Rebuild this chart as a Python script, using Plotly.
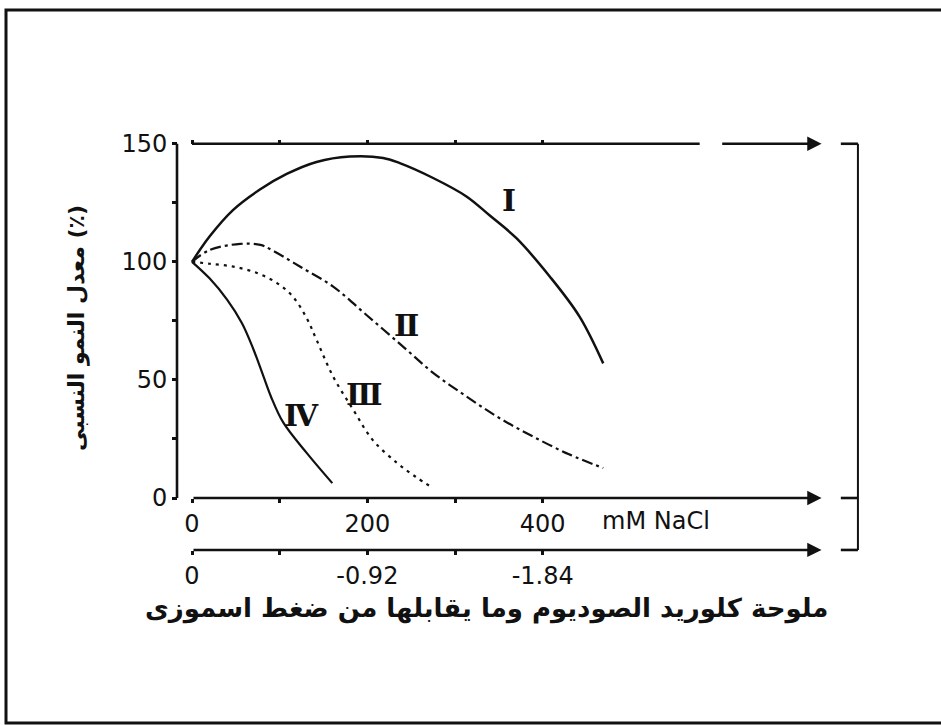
import plotly.graph_objects as go

# ---------------- data ----------------
curve_I_x = [0, 20, 47, 77, 108, 142, 180, 218, 237, 275, 313, 340, 370, 408, 442, 469]
curve_I_y = [100, 110.7, 122, 130.5, 137.2, 142.3, 144.6, 144, 141.8, 135.5, 127.7, 119.5, 110, 93.8, 76.8, 57]

curve_II_x = [0, 20, 55, 78, 92, 123, 161, 199, 241, 275, 313, 350, 389, 430, 469]
curve_II_y = [100, 105, 107.6, 107.2, 104.8, 98, 89.5, 77.5, 64, 53, 43, 34, 26, 18.5, 12.7]

curve_III_x = [0, 20, 47, 74, 97, 115, 131, 142, 161, 184, 206, 234, 255, 275]
curve_III_y = [100, 99.2, 98, 95.3, 91, 85.3, 76, 67, 51.4, 37.3, 24.6, 14.8, 9, 4.2]

curve_IV_x = [0, 20, 40, 57, 70, 81, 90, 104, 131, 160]
curve_IV_y = [100, 93, 84, 74, 63, 52, 43, 32, 19, 6.3]

curve_names = ["Ⅰ", "Ⅱ", "Ⅲ", "Ⅳ"]
label_x = [361, 245, 197, 125]
label_y = [126, 73, 44, 35]

nacl_ticks = [0, 100, 200, 300, 400]
nacl_text = ["0", "", "200", "", "400"]
mpa_text = ["0", "", "-0.92", "", "-1.84"]
y_ticks = [0, 25, 50, 75, 100, 125, 150]
y_text = ["0", "", "50", "", "100", "", "150"]

x_title = "ملوحة كلوريد الصوديوم وما يقابلها من ضغط اسموزى"
y_title = "معدل النمو النسبى (٪)"
nacl_unit = "mM NaCl"
mpa_unit = "MPa"

# ---------------- layout geometry ----------------
W, H = 941, 725
PX0, SX = 192, 0.8768      # pixel of x=0, px per mM
PY0, SY = 498, 2.3616      # pixel of y=0, px per %
L, R, T, B = 150, 81, 130, 168
xr = [(L - PX0) / SX, (W - R - PX0) / SX]
yr = [(PY0 - (H - B)) / SY, (PY0 - T) / SY]

def fx(px):
    return (px - L) / (W - L - R)

def fy(py):
    return 1 - (py - T) / (H - T - B)

def ypos(val):
    return (val - yr[0]) / (yr[1] - yr[0])

Y_AXIS_X = (177 - PX0) / SX
MPA_Y = -22
TOP_Y = 150
ARROW_END = 718
BRACKET_X = 759.5
BRACKET_IN = 740

BLACK = "#111111"
tickfont = dict(family="DejaVu Sans", size=24, color=BLACK)

fig = go.Figure()
common = dict(mode="lines", line_shape="spline", showlegend=False, hoverinfo="skip")
fig.add_trace(go.Scatter(x=curve_I_x, y=curve_I_y, line=dict(color=BLACK, width=2.5, smoothing=1.0), **common))
fig.add_trace(go.Scatter(x=curve_II_x, y=curve_II_y, line=dict(color=BLACK, width=2.2, dash="11px,4px,3px,4px", smoothing=1.0), **common))
fig.add_trace(go.Scatter(x=curve_III_x, y=curve_III_y, line=dict(color=BLACK, width=2.2, dash="3px,5px", smoothing=1.0), **common))
fig.add_trace(go.Scatter(x=curve_IV_x, y=curve_IV_y, line=dict(color=BLACK, width=2.2, smoothing=1.0), **common))

# dummy traces to hold the secondary axes
fig.add_trace(go.Scatter(x=[0], y=[0], xaxis="x2", mode="markers", marker=dict(opacity=0), showlegend=False, hoverinfo="skip"))
fig.add_trace(go.Scatter(x=[0], y=[0], xaxis="x3", mode="markers", marker=dict(opacity=0), showlegend=False, hoverinfo="skip"))

axis_common = dict(showgrid=False, zeroline=False, showline=False, range=xr,
                   ticks="outside", ticklen=4, tickwidth=2.5, tickcolor=BLACK,
                   tickvals=nacl_ticks, tickfont=tickfont)

fig.update_layout(
    width=W, height=H,
    margin=dict(l=L, r=R, t=T, b=B),
    paper_bgcolor="white", plot_bgcolor="white",
    xaxis=dict(anchor="free", position=ypos(0), ticktext=nacl_text, **axis_common),
    xaxis2=dict(overlaying="x", anchor="free", position=ypos(MPA_Y), side="bottom",
                ticktext=mpa_text, **axis_common),
    xaxis3=dict(overlaying="x", anchor="free", position=ypos(TOP_Y), side="top",
                ticktext=[""] * len(nacl_ticks), **axis_common),
    yaxis=dict(range=yr, showgrid=False, zeroline=False, showline=False,
               anchor="free", position=fx(177),
               ticks="outside", ticklen=5, tickwidth=2.5, tickcolor=BLACK,
               tickvals=y_ticks, ticktext=y_text, tickfont=tickfont),
)

# axis lines and bracket
lw = 2.6
segs = [
    (Y_AXIS_X, 0, Y_AXIS_X, TOP_Y),
    (0, TOP_Y, 579, TOP_Y),
    (BRACKET_IN, TOP_Y, BRACKET_X, TOP_Y),
    (BRACKET_X, TOP_Y, BRACKET_X, MPA_Y),
    (BRACKET_IN, 0, BRACKET_X, 0),
    (BRACKET_IN, MPA_Y, BRACKET_X, MPA_Y),
]
for x0, y0, x1, y1 in segs:
    fig.add_shape(type="line", x0=x0, y0=y0, x1=x1, y1=y1, xref="x", yref="y",
                  line=dict(color=BLACK, width=lw if x0 != BRACKET_X else 2))

arrows = [(603, TOP_Y), (0, 0), (0, MPA_Y)]
for ax0, yy in arrows:
    fig.add_annotation(x=ARROW_END, y=yy, ax=ax0, ay=yy, xref="x", yref="y", axref="x", ayref="y",
                       text="", showarrow=True, arrowhead=2, arrowsize=1.1, arrowwidth=lw,
                       arrowcolor=BLACK, standoff=0, startstandoff=0)

# curve labels
for name, lx, ly in zip(curve_names, label_x, label_y):
    fig.add_annotation(x=lx, y=ly, xref="x", yref="y", text="<b>" + name + "</b>", showarrow=False,
                       font=dict(family="DejaVu Serif", size=30, color=BLACK))

# unit labels
fig.add_annotation(x=(600 - PX0) / SX, y=(PY0 - 521) / SY, xref="x", yref="y", text=nacl_unit,
                   showarrow=False, xanchor="left", yanchor="middle", font=tickfont)
fig.add_annotation(x=(600 - PX0) / SX, y=(PY0 - 572) / SY, xref="x", yref="y", text=mpa_unit,
                   showarrow=False, xanchor="left", yanchor="middle", font=tickfont)

# titles
fig.add_annotation(x=fx(486), y=fy(608), xref="paper", yref="paper", text="<b>" + x_title + "</b>",
                   showarrow=False, xanchor="center", yanchor="middle",
                   font=dict(family="DejaVu Sans", size=26, color=BLACK))
fig.add_annotation(x=fx(77), y=fy(328), xref="paper", yref="paper", text="<b>" + y_title + "</b>",
                   showarrow=False, textangle=-90, xanchor="center", yanchor="middle",
                   font=dict(family="DejaVu Sans", size=22, color=BLACK))

# outer frame
fig.add_shape(type="rect", xref="paper", yref="paper", x0=fx(6), x1=fx(947), y0=fy(723), y1=fy(10),
              line=dict(color=BLACK, width=3), layer="above")

fig.write_html("out.html", config={"displayModeBar": False},
               post_script="document.body.style.margin='0px';document.body.style.overflow='hidden';")
